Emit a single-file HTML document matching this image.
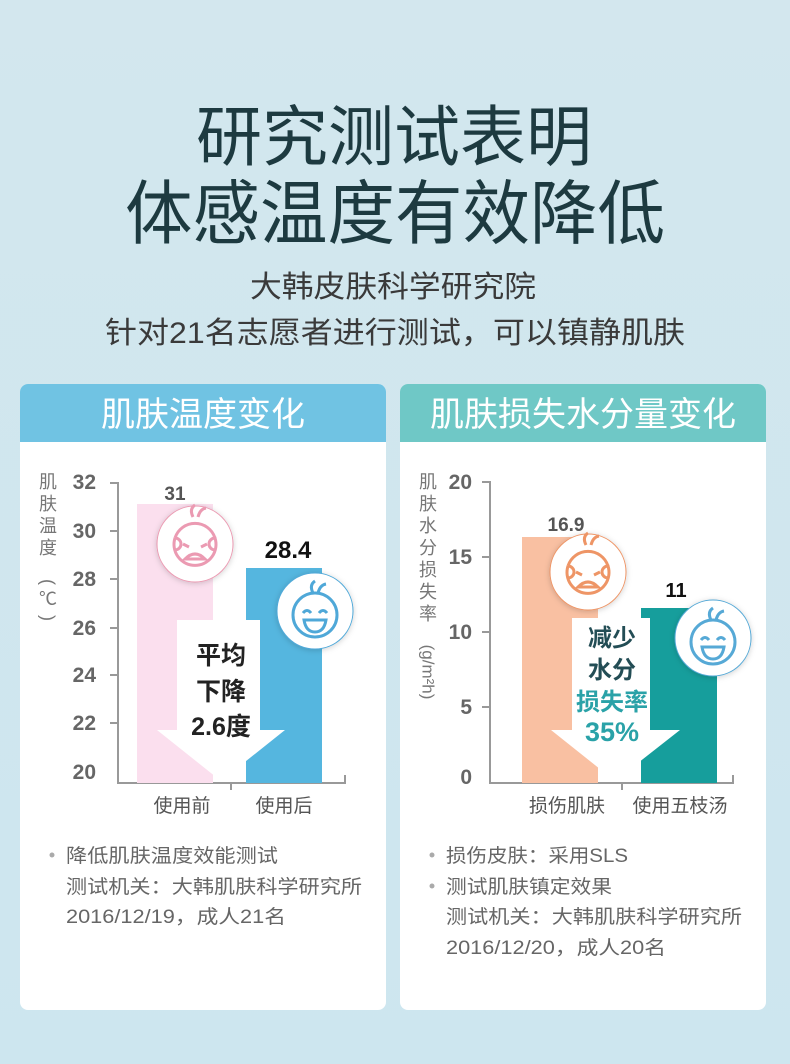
<!DOCTYPE html>
<html><head><meta charset="utf-8"><style>
html,body{margin:0;padding:0}
body{width:790px;height:1064px;overflow:hidden;background:linear-gradient(#d3e7ee,#cde6ef);font-family:"Liberation Sans","Noto Sans CJK SC",sans-serif}
svg{display:block}
</style></head><body>
<svg width="790" height="1064" viewBox="0 0 790 1064" xmlns="http://www.w3.org/2000/svg" font-family="Liberation Sans, Noto Sans CJK SC, sans-serif">
<defs>
<filter id="sh" x="-30%" y="-30%" width="160%" height="160%"><feDropShadow dx="0" dy="1" stdDeviation="3" flood-color="#000" flood-opacity="0.18"/></filter>
<g id="angry">
<circle r="38" fill="#fff" filter="url(#sh)"/>
<path d="M-20,-6 A21,21 0 1 0 20,-6 A6,6 0 0 0 20,6" fill="none" stroke-width="3"/>
<path d="M-20,-6 A21,21 0 0 1 20,-6 M-20,-6 A6,6 0 0 1 -20,6" fill="none" stroke-width="3"/>
<path d="M-2,-27 q-4,-8 2,-12 M3,-27 q2,-8 8,-9" fill="none" stroke-width="3"/>
<path d="M-12,0 l6,3 M12,0 l-6,3" fill="none" stroke-width="3"/>
<path d="M-10,15 q10,-10 20,0 z" fill="none" stroke-width="3"/>
</g>
<g id="happy">
<circle r="38" fill="#fff" filter="url(#sh)"/>
<circle cx="0" cy="4" r="22" fill="none" stroke-width="3"/>
<path d="M-2,-18 q-4,-8 2,-12 M3,-18 q2,-8 8,-9" fill="none" stroke-width="3"/>
<path d="M-12,2 q4,-5 8,0 M4,2 q4,-5 8,0" fill="none" stroke-width="3"/>
<path d="M-11,9 h22 q-2,12 -11,12 q-9,0 -11,-12 z" fill="none" stroke-width="3"/>
</g>
</defs>

<text x="196" y="160" font-size="66" fill="#1d3a40" textLength="396" lengthAdjust="spacingAndGlyphs">研究测试表明</text>
<text x="125" y="238" font-size="70" fill="#1d3a40" textLength="540" lengthAdjust="spacingAndGlyphs">体感温度有效降低</text>
<text x="250" y="297" font-size="30" fill="#3a3a3a" textLength="286" lengthAdjust="spacingAndGlyphs">大韩皮肤科学研究院</text>
<text x="105" y="343" font-size="30" fill="#3a3a3a" textLength="580" lengthAdjust="spacingAndGlyphs">针对21名志愿者进行测试，可以镇静肌肤</text>

<!-- Left card -->
<rect x="20" y="384" width="366" height="626" rx="8" fill="#fff"/>
<path d="M20,442 V392 a8,8 0 0 1 8,-8 H378 a8,8 0 0 1 8,8 V442 Z" fill="#70c3e3"/>
<text x="203" y="426" font-size="34" fill="#fff" text-anchor="middle">肌肤温度变化</text>

<g font-size="18" fill="#777" text-anchor="middle">
<text x="48" y="488">肌</text><text x="48" y="510">肤</text><text x="48" y="532">温</text><text x="48" y="554">度</text>
<text x="48" y="582" dominant-baseline="central" transform="rotate(90 48 582)">(</text>
<text x="48" y="605">℃</text>
<text x="48" y="618" dominant-baseline="central" transform="rotate(90 48 618)">)</text>
</g>
<g font-size="21" font-weight="bold" fill="#666" text-anchor="end">
<text x="96" y="489">32</text><text x="96" y="538">30</text><text x="96" y="586">28</text><text x="96" y="635">26</text><text x="96" y="682">24</text><text x="96" y="730">22</text><text x="96" y="779">20</text>
</g>
<g stroke="#999" stroke-width="2" fill="none">
<path d="M110,483 H118 V783 H345 V775 M110,531 h8 M110,579 h8 M110,628 h8 M110,675 h8 M110,723 h8 M231,783 v7"/>
</g>
<rect x="137" y="504" width="76" height="279" fill="#fbdfee"/>
<rect x="246" y="568" width="76" height="215" fill="#55b6df"/>
<path d="M177,620 H260 V730 H285 L221,781 L157,730 H177 Z" fill="#fff"/>
<g font-size="25" font-weight="bold" fill="#222" text-anchor="middle">
<text x="221" y="664">平均</text><text x="221" y="700">下降</text><text x="221" y="735">2.6度</text>
</g>
<text x="175" y="500" font-size="19" font-weight="bold" fill="#555" text-anchor="middle">31</text>
<text x="288" y="558" font-size="24" font-weight="bold" fill="#111" text-anchor="middle">28.4</text>
<use href="#angry" x="195" y="544" stroke="#eb9ab2"/>
<use href="#happy" x="315" y="611" stroke="#4fa8d8"/>
<g font-size="19" fill="#555" text-anchor="middle">
<text x="182" y="812">使用前</text><text x="284" y="812">使用后</text>
</g>
<g font-size="19" fill="#666">
<circle cx="52" cy="855" r="2.5" fill="#aaa"/>
<text x="66" y="862" textLength="212" lengthAdjust="spacingAndGlyphs">降低肌肤温度效能测试</text>
<text x="66" y="893" textLength="296" lengthAdjust="spacingAndGlyphs">测试机关：大韩肌肤科学研究所</text>
<text x="66" y="923" textLength="220" lengthAdjust="spacingAndGlyphs">2016/12/19，成人21名</text>
</g>

<!-- Right card -->
<rect x="400" y="384" width="366" height="626" rx="8" fill="#fff"/>
<path d="M400,442 V392 a8,8 0 0 1 8,-8 H758 a8,8 0 0 1 8,8 V442 Z" fill="#6fc8c6"/>
<text x="583" y="426" font-size="34" fill="#fff" text-anchor="middle">肌肤损失水分量变化</text>

<g font-size="18" fill="#777" text-anchor="middle">
<text x="428" y="488">肌</text><text x="428" y="510">肤</text><text x="428" y="532">水</text><text x="428" y="554">分</text><text x="428" y="576">损</text><text x="428" y="598">失</text><text x="428" y="620">率</text>
<text x="428" y="672" font-size="17" dominant-baseline="central" transform="rotate(90 428 672)">(g/m²h)</text>
</g>
<g font-size="21" font-weight="bold" fill="#666" text-anchor="end">
<text x="472" y="489">20</text><text x="472" y="564">15</text><text x="472" y="639">10</text><text x="472" y="714">5</text><text x="472" y="784">0</text>
</g>
<g stroke="#999" stroke-width="2" fill="none">
<path d="M482,482 H490 V783 H733 V775 M482,557 h8 M482,632 h8 M482,707 h8 M622,783 v7"/>
</g>
<rect x="522" y="537" width="76" height="246" fill="#f9c0a2"/>
<rect x="641" y="608" width="76" height="175" fill="#169e9c"/>
<path d="M572,618 H650 V730 H680 L615,781 L551,730 H572 Z" fill="#fff"/>
<g font-size="24" font-weight="bold" text-anchor="middle">
<text x="612" y="646" fill="#234d55">减少</text><text x="612" y="678" fill="#234d55">水分</text>
<text x="612" y="710" fill="#2aa2a8">损失率</text><text x="612" y="741" fill="#2aa2a8" font-size="27">35%</text>
</g>
<text x="566" y="531" font-size="19" font-weight="bold" fill="#555" text-anchor="middle">16.9</text>
<text x="676" y="597" font-size="20" font-weight="bold" fill="#111" text-anchor="middle">11</text>
<use href="#angry" x="588" y="572" stroke="#ee9566"/>
<use href="#happy" x="713" y="638" stroke="#56a9d6"/>
<g font-size="19" fill="#555" text-anchor="middle">
<text x="567" y="812">损伤肌肤</text><text x="680" y="812">使用五枝汤</text>
</g>
<g font-size="19" fill="#666">
<circle cx="432" cy="855" r="2.5" fill="#aaa"/>
<text x="446" y="862" textLength="182" lengthAdjust="spacingAndGlyphs">损伤皮肤：采用SLS</text>
<circle cx="432" cy="886" r="2.5" fill="#aaa"/>
<text x="446" y="893" textLength="166" lengthAdjust="spacingAndGlyphs">测试肌肤镇定效果</text>
<text x="446" y="923" textLength="296" lengthAdjust="spacingAndGlyphs">测试机关：大韩肌肤科学研究所</text>
<text x="446" y="954" textLength="220" lengthAdjust="spacingAndGlyphs">2016/12/20，成人20名</text>
</g>
</svg>
</body></html>
